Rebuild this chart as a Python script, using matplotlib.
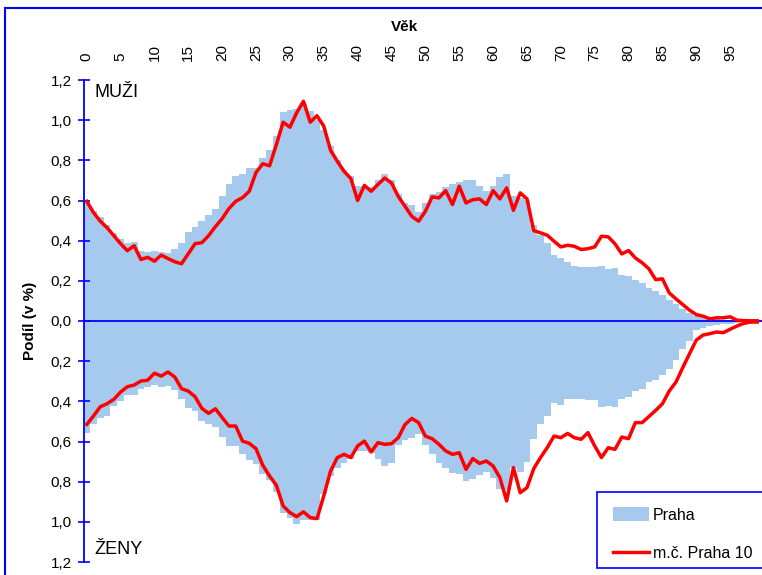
import matplotlib
matplotlib.use("Agg")
import matplotlib.pyplot as plt
from matplotlib.patches import Rectangle, Patch
from matplotlib.lines import Line2D
from matplotlib.ticker import FuncFormatter
import numpy as np

plt.rcParams['font.family'] = ['Liberation Sans', 'DejaVu Sans']

ages = list(range(100))

muzi_praha = [0.60, 0.546, 0.516, 0.477, 0.44, 0.41, 0.387, 0.395, 0.35, 0.346,
              0.35, 0.342, 0.337, 0.36, 0.387, 0.445, 0.47, 0.50, 0.53, 0.556,
              0.62, 0.68, 0.72, 0.733, 0.763, 0.763, 0.81, 0.85, 0.923, 1.04,
              1.052, 1.056, 1.08, 1.047, 1.0, 0.95, 0.87, 0.80, 0.75, 0.72,
              0.67, 0.67, 0.665, 0.70, 0.73, 0.70, 0.63, 0.588, 0.58, 0.543,
              0.588, 0.633, 0.64, 0.668, 0.68, 0.693, 0.704, 0.704, 0.674, 0.649,
              0.674, 0.717, 0.733, 0.62, 0.61, 0.604, 0.477, 0.43, 0.389, 0.327,
              0.314, 0.293, 0.276, 0.268, 0.268, 0.268, 0.276, 0.261, 0.266, 0.231,
              0.223, 0.203, 0.187, 0.163, 0.148, 0.127, 0.107, 0.086, 0.061, 0.041,
              0.027, 0.019, 0.012, 0.008, 0.006, 0.004, 0.003, 0.002, 0.001, 0.001]

zeny_praha = [0.56, 0.515, 0.485, 0.474, 0.424, 0.40, 0.37, 0.37, 0.34, 0.33,
              0.32, 0.328, 0.325, 0.346, 0.39, 0.432, 0.45, 0.50, 0.515, 0.53,
              0.576, 0.62, 0.623, 0.664, 0.69, 0.714, 0.76, 0.79, 0.85, 0.958,
              0.98, 1.01, 0.99, 0.99, 0.99, 0.863, 0.772, 0.734, 0.709, 0.689,
              0.647, 0.647, 0.656, 0.689, 0.722, 0.709, 0.619, 0.594, 0.584, 0.564,
              0.619, 0.664, 0.709, 0.734, 0.759, 0.764, 0.797, 0.789, 0.769, 0.75,
              0.784, 0.838, 0.84, 0.73, 0.75, 0.70, 0.586, 0.515, 0.473, 0.407,
              0.42, 0.39, 0.39, 0.387, 0.393, 0.393, 0.428, 0.423, 0.428, 0.387,
              0.378, 0.349, 0.34, 0.304, 0.294, 0.27, 0.237, 0.196, 0.141, 0.10,
              0.046, 0.033, 0.025, 0.02, 0.017, 0.013, 0.01, 0.007, 0.005, 0.003]

muzi_p10 = [0.596, 0.54, 0.497, 0.465, 0.425, 0.385, 0.35, 0.375, 0.306, 0.317,
            0.298, 0.328, 0.311, 0.295, 0.285, 0.335, 0.385, 0.39, 0.425, 0.47,
            0.51, 0.56, 0.596, 0.614, 0.646, 0.74, 0.783, 0.773, 0.878, 0.99,
            0.965, 1.037, 1.094, 0.99, 1.022, 0.97, 0.85, 0.795, 0.745, 0.709,
            0.60, 0.675, 0.646, 0.68, 0.712, 0.687, 0.62, 0.571, 0.521, 0.497,
            0.546, 0.618, 0.613, 0.649, 0.58, 0.671, 0.588, 0.604, 0.608, 0.58,
            0.649, 0.608, 0.663, 0.551, 0.638, 0.608, 0.45, 0.439, 0.427, 0.397,
            0.369, 0.377, 0.372, 0.356, 0.36, 0.369, 0.422, 0.419, 0.384, 0.334,
            0.351, 0.314, 0.29, 0.26, 0.206, 0.21, 0.14, 0.11, 0.082, 0.054,
            0.032, 0.024, 0.011, 0.016, 0.016, 0.021, 0.004, 0.002, 0.001, 0.001]

zeny_p10 = [0.515, 0.473, 0.427, 0.412, 0.39, 0.354, 0.327, 0.319, 0.299, 0.295,
            0.26, 0.274, 0.254, 0.279, 0.337, 0.349, 0.377, 0.435, 0.46, 0.437,
            0.481, 0.523, 0.523, 0.598, 0.609, 0.636, 0.719, 0.772, 0.818, 0.921,
            0.954, 0.974, 0.95, 0.979, 0.984, 0.871, 0.747, 0.68, 0.664, 0.68,
            0.622, 0.598, 0.652, 0.606, 0.614, 0.611, 0.581, 0.515, 0.485, 0.506,
            0.573, 0.586, 0.614, 0.647, 0.664, 0.656, 0.739, 0.685, 0.709, 0.697,
            0.722, 0.78, 0.896, 0.73, 0.855, 0.83, 0.735, 0.68, 0.63, 0.573,
            0.581, 0.56, 0.581, 0.589, 0.556, 0.622, 0.68, 0.631, 0.639, 0.578,
            0.586, 0.506, 0.506, 0.476, 0.445, 0.412, 0.349, 0.304, 0.232, 0.163,
            0.095, 0.07, 0.063, 0.055, 0.058, 0.041, 0.025, 0.012, 0.005, 0.005]

age_ticks = list(range(0, 100, 5))
y_ticks = [-1.2, -1.0, -0.8, -0.6, -0.4, -0.2, 0.0, 0.2, 0.4, 0.6, 0.8, 1.0, 1.2]

BAR_C = '#A6C9EE'
RED = '#FF0000'
BLUE = '#0000FF'

W, H = 762, 575
fig = plt.figure(figsize=(W / 100, H / 100), dpi=100)
ax = fig.add_axes([84 / W, 1 - 562 / H, (W - 84) / W, (562 - 80) / H])

ages_a = np.array(ages)
ax.bar(ages_a, muzi_praha, width=1.0, color=BAR_C, linewidth=0, zorder=1)
ax.bar(ages_a, -np.array(zeny_praha), width=1.0, color=BAR_C, linewidth=0, zorder=1)
ax.axhline(0, color=BLUE, lw=1.3, zorder=2)
ax.plot(ages_a, muzi_p10, color=RED, lw=2.5, zorder=3, solid_joinstyle='round')
ax.plot(ages_a, -np.array(zeny_p10), color=RED, lw=2.5, zorder=3, solid_joinstyle='round')

ax.set_xlim(-0.4, 99.7)
ax.set_ylim(-1.2, 1.2)

for s in ['top', 'right', 'bottom']:
    ax.spines[s].set_visible(False)
ax.spines['left'].set_color(BLUE)
ax.spines['left'].set_linewidth(1.3)

ax.set_yticks(y_ticks)
ax.yaxis.set_major_formatter(FuncFormatter(lambda v, p: f"{abs(v):.1f}".replace('.', ',')))
ax.tick_params(axis='y', direction='inout', length=8, width=1.2, color=BLUE,
               labelsize=11, pad=5)

ax.xaxis.tick_top()
ax.set_xticks(age_ticks)
ax.set_xticklabels([str(a) for a in age_ticks], rotation=90)
ax.tick_params(axis='x', length=0, labelsize=11, pad=14)

ax.text(1.1, 1.14, 'MUŽI', fontsize=13, va='center', ha='left')
ax.text(1.1, -1.14, 'ŽENY', fontsize=13, va='center', ha='left')

fig.text(405 / W, 1 - 27 / H, 'Věk', fontsize=11, fontweight='bold', ha='center', va='center')
fig.text(30 / W, 1 - 321 / H, 'Podíl (v %)', fontsize=11, fontweight='bold',
         rotation=90, ha='center', va='center')

# outer chart border
fig.add_artist(Line2D([5 / W, 5 / W], [0, 1 - 8 / H], color=BLUE, lw=1.5, transform=fig.transFigure))
fig.add_artist(Line2D([5 / W, 1], [1 - 8 / H, 1 - 8 / H], color=BLUE, lw=1.5, transform=fig.transFigure))

# legend
fig.add_artist(Rectangle((597 / W, 1 - 568 / H), (W + 10 - 597) / W, (568 - 492) / H,
                         transform=fig.transFigure, facecolor='white', edgecolor=BLUE,
                         lw=1.2, zorder=5))
handles = [Patch(facecolor=BAR_C, edgecolor='none', label='Praha'),
           Line2D([], [], color=RED, lw=2.5, label='m.č. Praha 10')]
leg = fig.legend(handles=handles, loc='upper left', bbox_to_anchor=(607 / W, 1 - 501 / H),
                 frameon=False, fontsize=11.5, handlelength=2.2, handleheight=0.9,
                 labelspacing=1.45, handletextpad=0.25, borderaxespad=0)
leg.set_zorder(6)

fig.savefig('out.png', dpi=100)
